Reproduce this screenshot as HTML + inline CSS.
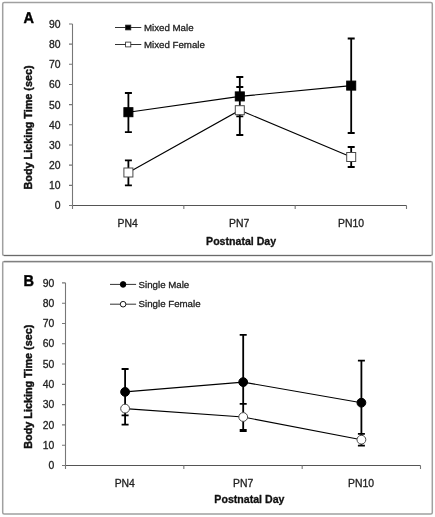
<!DOCTYPE html>
<html><head><meta charset="utf-8"><style>
html,body{margin:0;padding:0;background:#fff;width:435px;height:517px;overflow:hidden}
svg{display:block;font-family:"Liberation Sans", sans-serif;will-change:transform}
text{stroke-linejoin:round}
</style></head><body>
<svg width="435" height="517" viewBox="0 0 435 517">
<rect width="435" height="517" fill="#fff"/>
<rect x="2.7" y="2.6" width="429.6" height="252.9" rx="1.5" fill="#fff" stroke="#a0a0a0" stroke-width="1.5"/>
<path d="M4 255.5H431" stroke="#6a6a6a" stroke-width="1.2"/>
<path d="M72.5 23.97V205.5" fill="none" stroke="#777" stroke-width="1.1"/>
<path d="M72.5 205.5H406.5" fill="none" stroke="#555" stroke-width="1.1"/>
<path d="M69 205.5H72.5M69 185.33H72.5M69 165.16H72.5M69 144.99H72.5M69 124.82H72.5M69 104.65H72.5M69 84.48H72.5M69 64.31H72.5M69 44.14H72.5M69 23.97H72.5M72.5 205.5V209M183.83 205.5V209M295.17 205.5V209M406.5 205.5V209" fill="none" stroke="#777" stroke-width="1.1"/>
<text x="60.6" y="209.2" text-anchor="end" font-size="10.4" fill="#222" stroke="#222" stroke-width="0.3">0</text>
<text x="60.6" y="189.2" text-anchor="end" font-size="10.4" fill="#222" stroke="#222" stroke-width="0.3">10</text>
<text x="60.6" y="169.2" text-anchor="end" font-size="10.4" fill="#222" stroke="#222" stroke-width="0.3">20</text>
<text x="60.6" y="149.2" text-anchor="end" font-size="10.4" fill="#222" stroke="#222" stroke-width="0.3">30</text>
<text x="60.6" y="129.2" text-anchor="end" font-size="10.4" fill="#222" stroke="#222" stroke-width="0.3">40</text>
<text x="60.6" y="109.2" text-anchor="end" font-size="10.4" fill="#222" stroke="#222" stroke-width="0.3">50</text>
<text x="60.6" y="88.2" text-anchor="end" font-size="10.4" fill="#222" stroke="#222" stroke-width="0.3">60</text>
<text x="60.6" y="68.2" text-anchor="end" font-size="10.4" fill="#222" stroke="#222" stroke-width="0.3">70</text>
<text x="60.6" y="48.2" text-anchor="end" font-size="10.4" fill="#222" stroke="#222" stroke-width="0.3">80</text>
<text x="60.6" y="28.2" text-anchor="end" font-size="10.4" fill="#222" stroke="#222" stroke-width="0.3">90</text>
<text x="127.7" y="227.2" text-anchor="middle" font-size="10.4" fill="#222" stroke="#222" stroke-width="0.3">PN4</text>
<text x="239.2" y="227.2" text-anchor="middle" font-size="10.4" fill="#222" stroke="#222" stroke-width="0.3">PN7</text>
<text x="351" y="227.2" text-anchor="middle" font-size="10.4" fill="#222" stroke="#222" stroke-width="0.3">PN10</text>
<text x="241.1" y="244.7" text-anchor="middle" font-size="10.6" font-weight="bold" fill="#111" stroke="#111" stroke-width="0.3">Postnatal Day</text>
<text transform="translate(31.9 127.45) rotate(-90)" x="0" y="0" text-anchor="middle" font-size="10.8" font-weight="bold" fill="#111" stroke="#111" stroke-width="0.45">Body Licking Time (sec)</text>
<text transform="translate(23.6 22.8) scale(1 1.08)" text-rendering="geometricPrecision" font-size="14.5" font-weight="bold" fill="#000" stroke="#000" stroke-width="0.4">A</text>
<path d="M128.4 93V132.1M124.9 93H131.9M124.9 132.1H131.9M239.8 77V116.3M236.3 77H243.3M236.3 116.3H243.3M351.2 38.5V133M347.7 38.5H354.7M347.7 133H354.7M128.4 160.3V185.4M124.9 160.3H131.9M124.9 185.4H131.9M239.8 87V135M236.3 87H243.3M236.3 135H243.3M351.2 147V167M347.7 147H354.7M347.7 167H354.7" fill="none" stroke="#000" stroke-width="1.8"/>
<polyline points="128.4,112.2 239.8,96.4 351.2,85.6" fill="none" stroke="#000" stroke-width="1.1"/>
<polyline points="128.4,172.5 239.8,110.2 351.2,157" fill="none" stroke="#000" stroke-width="1.1"/>
<rect x="123.9" y="107.7" width="9" height="9" fill="#000" stroke="#000" stroke-width="1"/>
<rect x="235.3" y="91.9" width="9" height="9" fill="#000" stroke="#000" stroke-width="1"/>
<rect x="346.7" y="81.1" width="9" height="9" fill="#000" stroke="#000" stroke-width="1"/>
<rect x="123.9" y="168" width="9" height="9" fill="#fff" stroke="#4a4a4a" stroke-width="1"/>
<rect x="235.3" y="105.7" width="9" height="9" fill="#fff" stroke="#4a4a4a" stroke-width="1"/>
<rect x="346.7" y="152.5" width="9" height="9" fill="#fff" stroke="#4a4a4a" stroke-width="1"/>
<path d="M115 27.5H141.3" stroke="#333" stroke-width="1"/>
<rect x="125.6" y="25.1" width="5.2" height="4.8" fill="#000" stroke="#222" stroke-width="0.8"/>
<text x="144" y="30.9" font-size="9.7" fill="#222" stroke="#222" stroke-width="0.3">Mixed Male</text>
<path d="M115 44.5H141.3" stroke="#333" stroke-width="1"/>
<rect x="125.6" y="42.1" width="5.2" height="4.8" fill="#fff" stroke="#222" stroke-width="0.8"/>
<text x="144" y="47.9" font-size="9.7" fill="#222" stroke="#222" stroke-width="0.3">Mixed Female</text>
<rect x="2.7" y="261.6" width="429.6" height="252.5" rx="1.5" fill="#fff" stroke="#a0a0a0" stroke-width="1.5"/>
<path d="M4 261.6H431" stroke="#808080" stroke-width="1.4"/>
<path d="M65.5 282.89V465.5" fill="none" stroke="#777" stroke-width="1.1"/>
<path d="M65.5 465.5H420.5" fill="none" stroke="#555" stroke-width="1.1"/>
<path d="M62 465.5H65.5M62 445.21H65.5M62 424.92H65.5M62 404.63H65.5M62 384.34H65.5M62 364.05H65.5M62 343.76H65.5M62 323.47H65.5M62 303.18H65.5M62 282.89H65.5M65.5 465.5V469M183.83 465.5V469M302.17 465.5V469M420.5 465.5V469" fill="none" stroke="#777" stroke-width="1.1"/>
<text x="54.2" y="469.2" text-anchor="end" font-size="10.4" fill="#222" stroke="#222" stroke-width="0.3">0</text>
<text x="54.2" y="448.91" text-anchor="end" font-size="10.4" fill="#222" stroke="#222" stroke-width="0.3">10</text>
<text x="54.2" y="428.62" text-anchor="end" font-size="10.4" fill="#222" stroke="#222" stroke-width="0.3">20</text>
<text x="54.2" y="408.33" text-anchor="end" font-size="10.4" fill="#222" stroke="#222" stroke-width="0.3">30</text>
<text x="54.2" y="388.04" text-anchor="end" font-size="10.4" fill="#222" stroke="#222" stroke-width="0.3">40</text>
<text x="54.2" y="367.75" text-anchor="end" font-size="10.4" fill="#222" stroke="#222" stroke-width="0.3">50</text>
<text x="54.2" y="347.46" text-anchor="end" font-size="10.4" fill="#222" stroke="#222" stroke-width="0.3">60</text>
<text x="54.2" y="327.17" text-anchor="end" font-size="10.4" fill="#222" stroke="#222" stroke-width="0.3">70</text>
<text x="54.2" y="306.88" text-anchor="end" font-size="10.4" fill="#222" stroke="#222" stroke-width="0.3">80</text>
<text x="54.2" y="286.59" text-anchor="end" font-size="10.4" fill="#222" stroke="#222" stroke-width="0.3">90</text>
<text x="124.8" y="486.9" text-anchor="middle" font-size="10.4" fill="#222" stroke="#222" stroke-width="0.3">PN4</text>
<text x="243.1" y="486.9" text-anchor="middle" font-size="10.4" fill="#222" stroke="#222" stroke-width="0.3">PN7</text>
<text x="361.1" y="486.9" text-anchor="middle" font-size="10.4" fill="#222" stroke="#222" stroke-width="0.3">PN10</text>
<text x="249.4" y="502.8" text-anchor="middle" font-size="10.6" font-weight="bold" fill="#111" stroke="#111" stroke-width="0.3">Postnatal Day</text>
<text transform="translate(31.9 386.7) rotate(-90)" x="0" y="0" text-anchor="middle" font-size="10.8" font-weight="bold" fill="#111" stroke="#111" stroke-width="0.45">Body Licking Time (sec)</text>
<text transform="translate(23.5 286.2) scale(1 1.08)" text-rendering="geometricPrecision" font-size="14.5" font-weight="bold" fill="#000" stroke="#000" stroke-width="0.4">B</text>
<path d="M125.1 369V415.4M121.6 369H128.6M121.6 415.4H128.6M243.2 334.9V429.9M239.7 334.9H246.7M239.7 429.9H246.7M361.4 360.7V445.7M357.9 360.7H364.9M357.9 445.7H364.9M125.1 392.5V424.7M121.6 392.5H128.6M121.6 424.7H128.6M243.2 403.9V431.1M239.7 403.9H246.7M239.7 431.1H246.7M361.4 433.8V445.7M357.9 433.8H364.9M357.9 445.7H364.9" fill="none" stroke="#000" stroke-width="1.8"/>
<polyline points="125.1,391.9 243.2,382.1 361.4,402.7" fill="none" stroke="#000" stroke-width="1.1"/>
<polyline points="125.1,408.6 243.2,417 361.4,439.7" fill="none" stroke="#000" stroke-width="1.1"/>
<circle cx="125.1" cy="391.9" r="4.4" fill="#000" stroke="#000" stroke-width="1"/>
<circle cx="243.2" cy="382.1" r="4.4" fill="#000" stroke="#000" stroke-width="1"/>
<circle cx="361.4" cy="402.7" r="4.4" fill="#000" stroke="#000" stroke-width="1"/>
<circle cx="125.1" cy="408.6" r="4.4" fill="#fff" stroke="#4a4a4a" stroke-width="1"/>
<circle cx="243.2" cy="417" r="4.4" fill="#fff" stroke="#4a4a4a" stroke-width="1"/>
<circle cx="361.4" cy="439.7" r="4.4" fill="#fff" stroke="#4a4a4a" stroke-width="1"/>
<path d="M110 284.4H136.1" stroke="#333" stroke-width="1"/>
<circle cx="123.1" cy="284.4" r="2.8" fill="#000" stroke="#000" stroke-width="0.9"/>
<text x="138.6" y="288.3" font-size="9.7" fill="#222" stroke="#222" stroke-width="0.3">Single Male</text>
<path d="M110 304.2H136.1" stroke="#333" stroke-width="1"/>
<circle cx="123.1" cy="304.2" r="2.8" fill="#fff" stroke="#000" stroke-width="0.9"/>
<text x="138.6" y="307.1" font-size="9.7" fill="#222" stroke="#222" stroke-width="0.3">Single Female</text>
</svg>
</body></html>
